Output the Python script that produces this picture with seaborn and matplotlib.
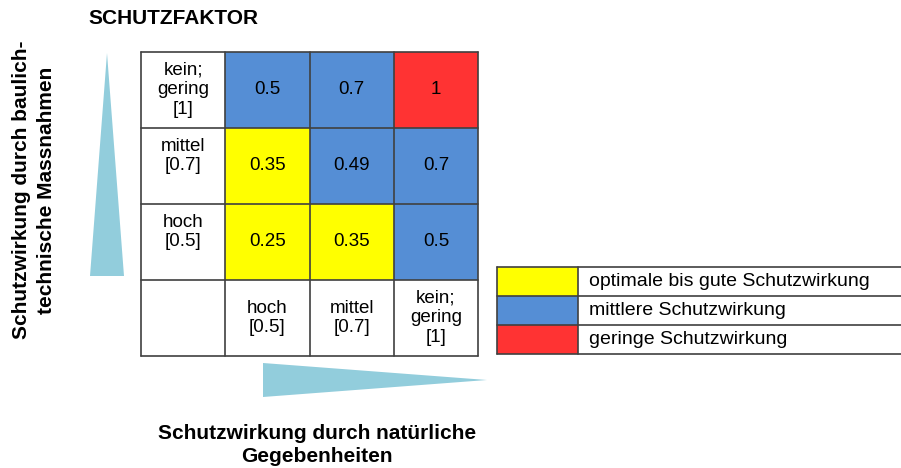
import numpy as np
import matplotlib
matplotlib.use("Agg")
import matplotlib.pyplot as plt
import seaborn as sns
from matplotlib.colors import ListedColormap

sns.set_style("white")
plt.rcParams["font.family"] = ["Liberation Sans", "DejaVu Sans"]
plt.rcParams["text.color"] = "black"

# data
row_labels = ["kein;\ngering\n[1]", "mittel\n[0.7]", "hoch\n[0.5]"]
col_labels = ["hoch\n[0.5]", "mittel\n[0.7]", "kein;\ngering\n[1]"]
values = [[0.5, 0.7, 1], [0.35, 0.49, 0.7], [0.25, 0.35, 0.5]]
classes = [[1, 1, 2], [0, 1, 1], [0, 0, 1]]   # 0 gut, 1 mittel, 2 gering
legend_labels = ["optimale bis gute Schutzwirkung", "mittlere Schutzwirkung", "geringe Schutzwirkung"]
class_colors = ["#FFFF00", "#558ED5", "#FF3333"]

title = "SCHUTZFAKTOR"
ylabel = "Schutzwirkung durch baulich-\ntechnische Massnahmen"
xlabel = "Schutzwirkung durch natürliche\nGegebenheiten"

W, H = 901, 468
fig = plt.figure(figsize=(W / 100, H / 100), dpi=100)


def box(x0, y0, x1, y1):
    return [x0 / W, 1 - y1 / H, (x1 - x0) / W, (y1 - y0) / H]


line_c = "#404040"
fs = 13.5

# matrix: 4x4 grid, first column and last row hold labels
ax = fig.add_axes(box(141, 52, 478, 356))
n = len(values)
cls = np.full((n + 1, n + 1), np.nan)
ann = np.full((n + 1, n + 1), "", dtype=object)
for i in range(n):
    for j in range(n):
        cls[i, j + 1] = classes[i][j]
        ann[i, j + 1] = f"{values[i][j]:g}"
mask = np.isnan(cls)
sns.heatmap(cls, mask=mask, cmap=ListedColormap(class_colors), vmin=-0.5, vmax=2.5,
            annot=ann, fmt="", annot_kws={"size": fs, "color": "black"},
            cbar=False, linewidths=0, ax=ax)
ax.set_xticks([])
ax.set_yticks([])
ax.set_facecolor("white")
for k in range(n + 2):
    ax.axhline(k, color=line_c, lw=1.2, clip_on=False)
    ax.axvline(k, color=line_c, lw=1.2, clip_on=False)
for sp in ax.spines.values():
    sp.set_visible(False)
for i, lab in enumerate(row_labels):
    off = 0.0 if lab.count("\n") == 2 else -0.13
    ax.text(0.5, i + 0.5 + off, lab, ha="center", va="center", fontsize=fs, linespacing=1.2)
for j, lab in enumerate(col_labels):
    ax.text(j + 1.5, n + 0.5, lab, ha="center", va="center", fontsize=fs, linespacing=1.2)

# legend table
lax = fig.add_axes(box(497, 267, 901, 354))
leg = np.full((3, 5), np.nan)
leg[:, 0] = [0, 1, 2]
sns.heatmap(leg, mask=np.isnan(leg), cmap=ListedColormap(class_colors), vmin=-0.5, vmax=2.5,
            cbar=False, linewidths=0, ax=lax)
lax.set_xticks([])
lax.set_yticks([])
for sp in lax.spines.values():
    sp.set_visible(False)
for k in range(4):
    lax.axhline(k, color=line_c, lw=1.2, clip_on=False)
lax.axvline(0, color=line_c, lw=1.2, clip_on=False)
lax.axvline(1, color=line_c, lw=1.2, clip_on=False)
for i, lab in enumerate(legend_labels):
    lax.text(1.14, i + 0.5, lab, ha="left", va="center", fontsize=14)

# arrows (triangles) and labels in pixel space
ov = fig.add_axes([0, 0, 1, 1], zorder=-1)
ov.set_xlim(0, W)
ov.set_ylim(H, 0)
ov.axis("off")
tri_c = "#92CDDC"
ov.fill([107, 90, 124], [53, 276, 276], color=tri_c, lw=0)
ov.fill([263, 263, 487], [363, 397, 380], color=tri_c, lw=0)

fig.text(88 / W, 1 - 18 / H, title, ha="left", va="center", fontsize=15, fontweight="bold")
fig.text(34 / W, 1 - 190 / H, ylabel, ha="center", va="center", rotation=90,
         fontsize=15, fontweight="bold", linespacing=1.4)
fig.text(317 / W, 1 - 445 / H, xlabel, ha="center", va="center",
         fontsize=15, fontweight="bold", linespacing=1.3)

fig.savefig("out.png", dpi=100)
